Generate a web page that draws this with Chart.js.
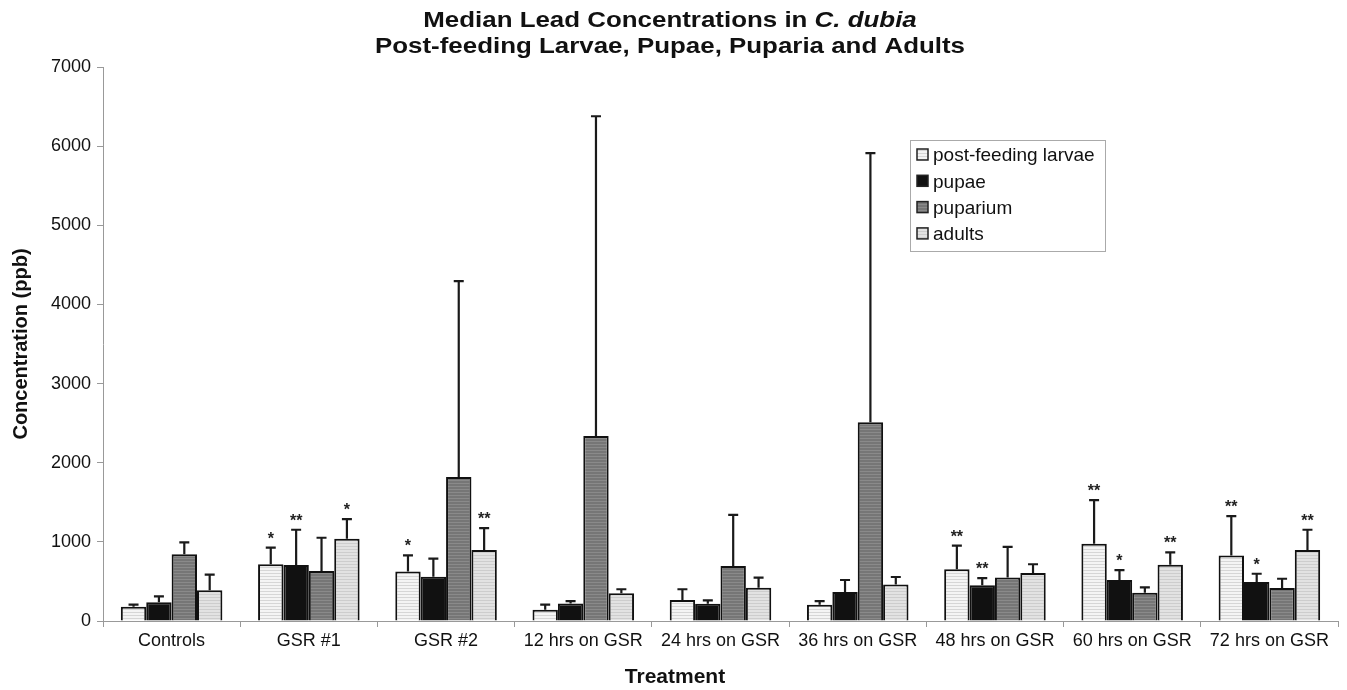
<!DOCTYPE html>
<html>
<head>
<meta charset="utf-8">
<title>Median Lead Concentrations in C. dubia</title>
<script src="https://cdn.jsdelivr.net/npm/chart.js@4.4.1/dist/chart.umd.min.js"></script>
<style>
    html, body { margin: 0; padding: 0; background: #fff; }
    #wrap { width: 1347px; height: 690px; position: relative; }
</style>
</head>
<body>
<div id="wrap"><canvas id="leadChart" width="1347" height="690"></canvas></div>
<script>
//################ data #############################
var categories = ['Controls', 'GSR #1', 'GSR #2', '12 hrs on GSR', '24 hrs on GSR',
    '36 hrs on GSR', '48 hrs on GSR', '60 hrs on GSR', '72 hrs on GSR'];

var larvae        = [180, 716, 627, 141, 265, 206, 654, 976, 829];
var larvaeUpper   = [206, 926, 829, 206, 401, 252, 952, 1528, 1326];
var pupae         = [236, 707, 560, 222, 218, 367, 453, 518, 492];
var pupaeUpper    = [312, 1153, 787, 252, 261, 518, 543, 644, 597];
var puparium      = [842, 631, 1819, 2336, 696, 2510, 551, 358, 417];
var pupariumUpper = [994, 1052, 4294, 6378, 1341, 5913, 936, 425, 534];
var adults        = [388, 1039, 896, 351, 419, 461, 606, 711, 896];
var adultsUpper   = [585, 1288, 1174, 401, 547, 556, 717, 867, 1153];

// significance marks above the error bars
var larvaeSig   = ['', '*', '*', '', '', '', '**', '**', '**'];
var pupaeSig    = ['', '**', '', '', '', '', '**', '*', '*'];
var pupariumSig = ['', '', '', '', '', '', '', '', ''];
var adultsSig   = ['', '*', '**', '', '', '', '', '**', '**'];

var yTicks = [0, 1000, 2000, 3000, 4000, 5000, 6000, 7000];

var FONT = "'Liberation Sans', Arial, sans-serif";

//################ hatch patterns #############################
function stripes(bg, line) {
    var c = document.createElement('canvas');
    c.width = 4; c.height = 3;
    var g = c.getContext('2d');
    g.fillStyle = bg;
    g.fillRect(0, 0, 4, 3);
    g.fillStyle = line;
    g.fillRect(0, 0, 4, 1);
    return g.createPattern(c, 'repeat');
}

var larvaeFill   = stripes('#f4f4f4', '#d6d6d6');
var pupaeFill    = '#111111';
var pupariumFill = stripes('#767676', '#8a8a8a');
var adultsFill   = stripes('#e2e2e2', '#cdcdcd');

//################ error bars + stars #############################
var errorBars = {
    id: 'errorBars',
    afterDatasetsDraw: function(chart) {
        var ctx = chart.ctx;
        var y = chart.scales.y;
        ctx.save();
        chart.data.datasets.forEach(function(ds, i) {
            var meta = chart.getDatasetMeta(i);
            meta.data.forEach(function(bar, j) {
                var top = y.getPixelForValue(ds.upper[j]);
                ctx.strokeStyle = '#1a1a1a';
                ctx.lineWidth = 2.2;
                ctx.beginPath();
                ctx.moveTo(bar.x, bar.y);
                ctx.lineTo(bar.x, top);
                ctx.moveTo(bar.x - 5, top);
                ctx.lineTo(bar.x + 5, top);
                ctx.stroke();
                if (ds.sig[j]) {
                    ctx.fillStyle = '#222';
                    ctx.font = 'bold 16px ' + FONT;
                    ctx.textAlign = 'center';
                    ctx.textBaseline = 'alphabetic';
                    ctx.fillText(ds.sig[j], bar.x, top - 4);
                }
            });
        });
        ctx.restore();
    }
};

//################ title + axis title + legend box #############################
var decorations = {
    id: 'decorations',
    afterDraw: function(chart) {
        var ctx = chart.ctx;
        ctx.save();
        ctx.fillStyle = '#111';
        ctx.textBaseline = 'middle';
        ctx.textAlign = 'left';

        // title, two lines, second sets the width
        var line2 = 'Post-feeding Larvae, Pupae, Puparia and Adults';
        ctx.font = 'bold 22px ' + FONT;
        var sx = 590 / ctx.measureText(line2).width;
        var a = 'Median Lead Concentrations in ';
        var b = 'C. dubia';
        var wa = ctx.measureText(a).width;
        ctx.font = 'italic bold 22px ' + FONT;
        var wb = ctx.measureText(b).width;

        ctx.save();
        ctx.translate(670, 0);
        ctx.scale(sx, 1);
        var x0 = -(wa + wb) / 2;
        ctx.font = 'bold 22px ' + FONT;
        ctx.fillText(a, x0, 21);
        ctx.font = 'italic bold 22px ' + FONT;
        ctx.fillText(b, x0 + wa, 21);
        ctx.font = 'bold 22px ' + FONT;
        ctx.textAlign = 'center';
        ctx.fillText(line2, 0, 47);
        ctx.restore();

        // x axis title sits a bit left of the plot centre
        ctx.font = 'bold 21px ' + FONT;
        ctx.textAlign = 'center';
        ctx.fillText('Treatment', 675, 677);

        // legend
        ctx.fillStyle = '#fff';
        ctx.fillRect(910, 140, 195, 111);
        ctx.strokeStyle = '#aaa';
        ctx.lineWidth = 1;
        ctx.strokeRect(910.5, 140.5, 195, 111);
        chart.data.datasets.forEach(function(ds, i) {
            var yy = 155 + i * 26.3;
            ctx.fillStyle = ds.backgroundColor;
            ctx.fillRect(917, yy - 6, 11, 11);
            ctx.strokeStyle = '#222';
            ctx.lineWidth = 1.5;
            ctx.strokeRect(917, yy - 6, 11, 11);
            ctx.fillStyle = '#111';
            ctx.font = '19px ' + FONT;
            ctx.textAlign = 'left';
            ctx.fillText(ds.label, 933, yy + 1);
        });
        ctx.restore();
    }
};

//################ chart #############################
document.addEventListener('DOMContentLoaded', function() {
    var ctx = document.getElementById('leadChart').getContext('2d');

    var sets = [
        ['post-feeding larvae', larvae, larvaeUpper, larvaeSig, larvaeFill],
        ['pupae', pupae, pupaeUpper, pupaeSig, pupaeFill],
        ['puparium', puparium, pupariumUpper, pupariumSig, pupariumFill],
        ['adults', adults, adultsUpper, adultsSig, adultsFill]
    ];

    var data = {
        labels: categories,
        datasets: sets.map(function(s) {
            return {
                label: s[0],
                data: s[1],
                upper: s[2],
                sig: s[3],
                backgroundColor: s[4],
                borderColor: '#111',
                borderWidth: 2,
                barPercentage: 1.0,
                categoryPercentage: 0.74
            };
        })
    };

    new Chart(ctx, {
        type: 'bar',
        data: data,
        options: {
            responsive: false,
            animation: false,
            layout: { padding: { top: 67, right: 9, left: 0, bottom: 0 } },
            plugins: {
                legend: { display: false },
                title: { display: false },
                tooltip: { enabled: false }
            },
            scales: {
                x: {
                    grid: { display: true, drawOnChartArea: false, offset: true, tickLength: 6, color: '#999' },
                    border: { color: '#999', width: 1 },
                    ticks: { color: '#111', font: { size: 18, family: FONT }, padding: 3, maxRotation: 0, autoSkip: false },
                    title: { display: false },
                    afterFit: function(s) { s.height = 69; }
                },
                y: {
                    min: 0,
                    max: 7000,
                    afterBuildTicks: function(s) { s.ticks = yTicks.map(function(v) { return { value: v }; }); },
                    grid: { display: true, drawOnChartArea: false, tickLength: 6, color: '#999' },
                    border: { color: '#999', width: 1 },
                    ticks: {
                        color: '#111', font: { size: 18, family: FONT }, padding: 6,
                        callback: function(v) { return String(v); }
                    },
                    title: { display: true, text: 'Concentration (ppb)', color: '#111', font: { size: 20, weight: 'bold', family: FONT }, padding: { top: 9, bottom: 0 } },
                    afterFit: function(s) { s.width = 103; }
                }
            }
        },
        plugins: [errorBars, decorations]
    });
});
</script>
</body>
</html>
